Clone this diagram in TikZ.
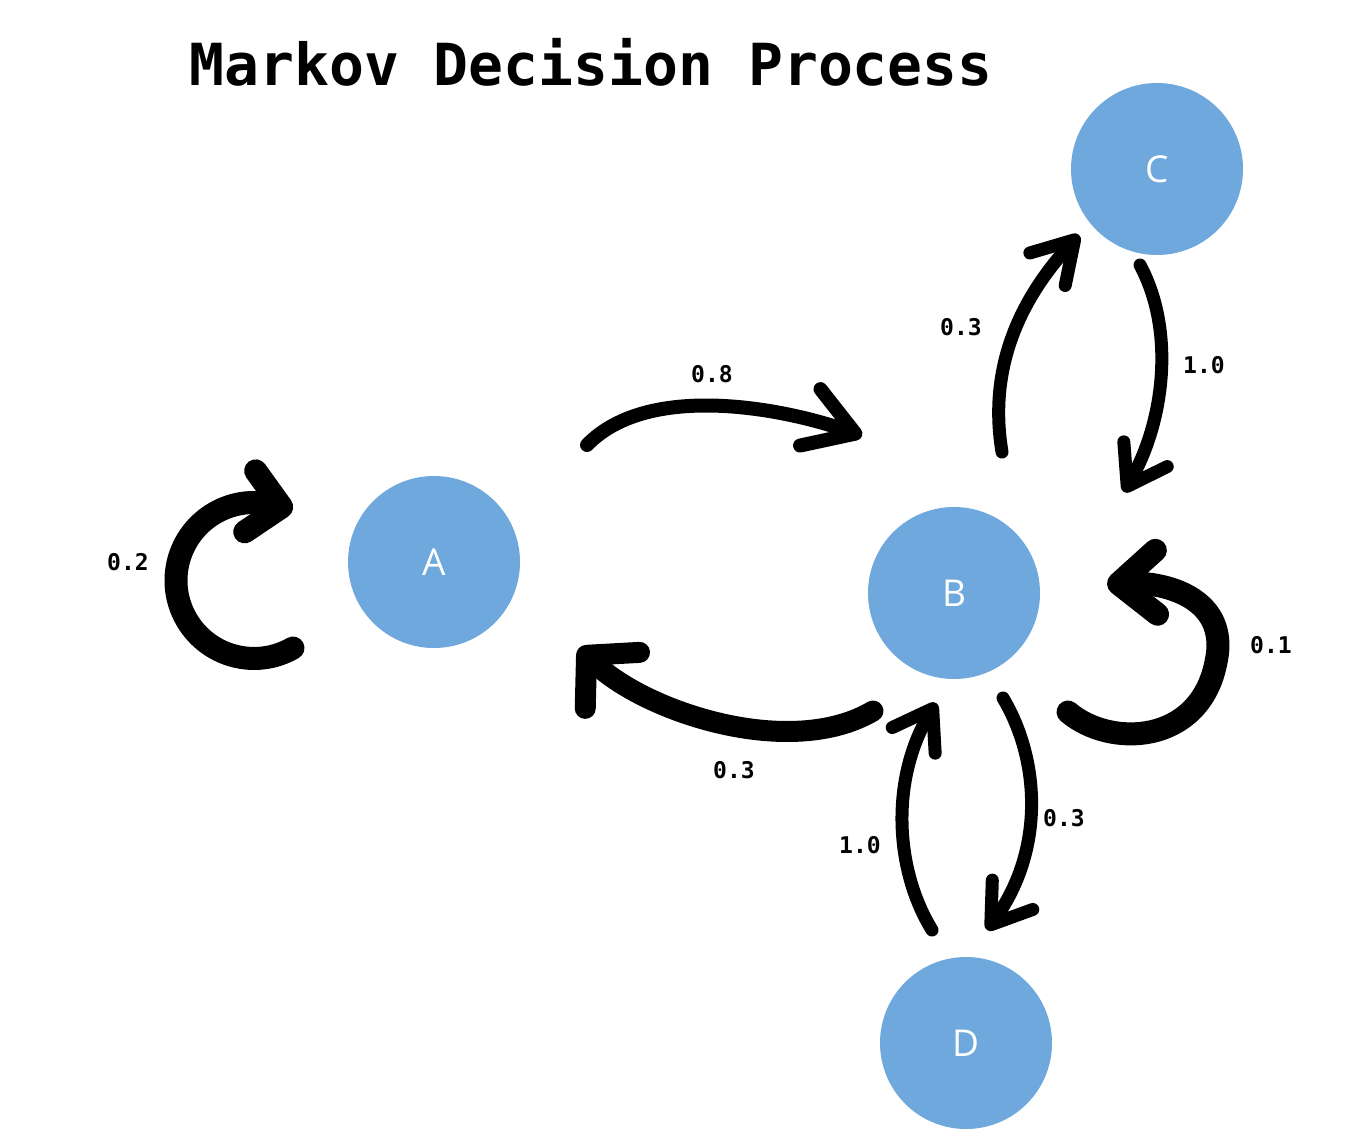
\documentclass[tikz,border=0pt]{standalone}
\usepackage{fontspec}
\usetikzlibrary{arrows.meta}
\newfontfamily\monofont{DejaVu Sans Mono}
\newfontfamily\letterfont{Open Sans}
\definecolor{stateblue}{RGB}{111,168,220}

\begin{document}
\begin{tikzpicture}[x=1pt, y=-1pt,
    state/.style={circle, fill=stateblue, minimum size=172pt, inner sep=0pt, text=white, font=\letterfont\fontsize{37}{37}\selectfont},
    prob/.style={font=\monofont\bfseries\fontsize{23}{23}\selectfont},
    flow/.style={line width=#1, line cap=round, line join=round},
    barb/.style 2 args={-{Straight Barb[round, length=#1, width=#2]}}]
    \useasboundingbox (0,0) rectangle (1367,1145);

    % Title
    \node[font=\monofont\bfseries\fontsize{58}{58}\selectfont, anchor=base west] (title) at (186,86) {Markov Decision Process};

    % States
    \node[state] (A) at (434,562) {A};
    \node[state] (B) at (954,593) {B};
    \node[state] (C) at (1157,169) {C};
    \node[state] (D) at (966,1043) {D};

    % Free ends of the arrows
    \coordinate (aa1) at (293,648);  \coordinate (aa2) at (293,509);
    \coordinate (ab1) at (587,445);  \coordinate (ab2) at (862,436);
    \coordinate (ba1) at (873,711);  \coordinate (ba2) at (579,648);
    \coordinate (bc1) at (1002,452); \coordinate (bc2) at (1079,235);
    \coordinate (cb1) at (1140,265); \coordinate (cb2) at (1124,492);
    \coordinate (bb1) at (1068,712); \coordinate (bb2) at (1107,584);
    \coordinate (bd1) at (1003,698); \coordinate (bd2) at (987,930);
    \coordinate (db1) at (932,930);  \coordinate (db2) at (936,703);

    % Self loops
    \draw[flow=23pt, barb={32pt}{62pt}] (aa1) arc[start angle=60, end angle=272, radius=78] -- (aa2);
    \draw[flow=23pt, barb={38pt}{64pt}] (bb1) .. controls (1110,748) and (1200,745) .. (1216,662)
        .. controls (1230,598) and (1165,582) .. (bb2);

    % Transitions
    \draw[flow=14pt, barb={48pt}{60pt}] (ab1) .. controls (650,380) and (790,410) .. (ab2);
    \draw[flow=21pt, barb={36pt}{78pt}] (ba1) .. controls (790,760) and (645,712) .. (ba2);
    \draw[flow=13pt, barb={40pt}{48pt}] (bc1) .. controls (990,380) and (1010,310) .. (bc2);
    \draw[flow=13pt, barb={37pt}{50pt}] (cb1) .. controls (1175,330) and (1165,420) .. (cb2);
    \draw[flow=13pt, barb={37pt}{50pt}] (bd1) .. controls (1040,760) and (1045,850) .. (bd2);
    \draw[flow=13pt, barb={37pt}{50pt}] (db1) .. controls (895,870) and (890,780) .. (db2);

    % Probabilities
    \node[prob] (p-aa) at (128,562) {0.2};
    \node[prob] (p-ab) at (712,374) {0.8};
    \node[prob] (p-ba) at (734,770) {0.3};
    \node[prob] (p-bc) at (961,327) {0.3};
    \node[prob] (p-cb) at (1204,365) {1.0};
    \node[prob] (p-bb) at (1271,645) {0.1};
    \node[prob] (p-bd) at (1064,818) {0.3};
    \node[prob] (p-db) at (860,845) {1.0};
\end{tikzpicture}
\end{document}
